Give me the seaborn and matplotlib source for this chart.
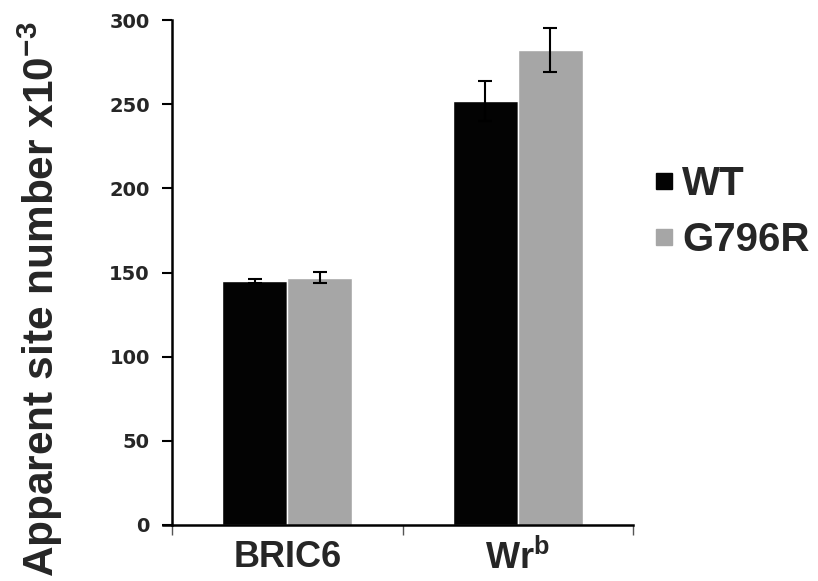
import numpy as np
import pandas as pd
import seaborn as sns
import matplotlib.pyplot as plt
from matplotlib.lines import Line2D

# values (x10^-3)
categories = ['BRIC6', 'Wr$^{b}$']
genotypes = ['WT', 'G796R']
wt_means = [145, 252]
wt_err = [1, 12]
mut_means = [147, 282]
mut_err = [3.5, 13]
colors = ['#030303', '#a6a6a6']
yticks = [0, 50, 100, 150, 200, 250, 300]

df = pd.DataFrame({
    'antibody': categories * 2,
    'genotype': [genotypes[0]] * 2 + [genotypes[1]] * 2,
    'sites': wt_means + mut_means,
})
errs = [wt_err, mut_err]

sns.set_style('white')
plt.rcParams['font.family'] = ['Liberation Sans', 'DejaVu Sans']
plt.rcParams['font.weight'] = 'bold'
plt.rcParams['mathtext.fontset'] = 'custom'
plt.rcParams['mathtext.rm'] = 'Liberation Sans:bold'
plt.rcParams['mathtext.it'] = 'Liberation Sans:bold'
plt.rcParams['mathtext.bf'] = 'Liberation Sans:bold'

fig = plt.figure(figsize=(8.18, 5.81), dpi=100)
ax = fig.add_axes([163 / 818, 56 / 581, (633 - 163) / 818, 505 / 581])

sns.barplot(data=df, x='antibody', y='sites', hue='genotype', order=categories,
            hue_order=genotypes, palette=colors, width=0.565, gap=0,
            saturation=1, legend=False, ax=ax)

# error bars on top of each bar
for cont, e in zip(ax.containers, errs):
    xs = [p.get_x() + p.get_width() / 2 for p in cont]
    hs = [p.get_height() for p in cont]
    ax.errorbar(xs, hs, yerr=e, fmt='none', ecolor='black', elinewidth=1.5,
                capsize=5, capthick=1.5)

# spines first: moving a spine resets the ticks
for s in ['top', 'right']:
    ax.spines[s].set_visible(False)
ax.spines['left'].set_position(('data', -0.5))
ax.spines['left'].set_linewidth(1.8)
ax.spines['left'].set_color('black')
ax.spines['bottom'].set_linewidth(1.8)
ax.spines['bottom'].set_color('black')

x0 = -0.5 - 9 / 230
ax.set_xlim(x0, 1.5)
ax.set_ylim(0, 300)
ax.set_yticks(yticks)
ax.set_yticklabels([str(v) for v in yticks])
for lab in ax.get_yticklabels():
    lab.set_fontfamily('DejaVu Sans')
    lab.set_fontweight('bold')
    lab.set_fontsize(14)

# category boundaries as ticks, labels centred under groups
ax.set_xticks([-0.5, 0.5, 1.5])
ax.set_xticklabels([])
ax.set_xticks([0, 1], minor=True)
ax.set_xticklabels(categories, minor=True, fontsize=26, fontweight='bold')
ax.tick_params(axis='x', which='major', direction='out', length=7, width=1,
               color='#555555', bottom=True)
ax.tick_params(axis='x', which='minor', length=0, pad=11, bottom=True)
ax.tick_params(axis='y', direction='out', length=7, width=1.5, left=True,
               color='black', pad=9)

ax.set_xlabel('')
ax.set_ylabel('')
fig.text(40 / 818, 1 - 299 / 581, 'Apparent site number x10$^{-3}$',
         rotation=90, ha='center', va='center', fontsize=30.5,
         fontweight='bold')

handles = [Line2D([], [], marker='s', linestyle='none', markersize=11,
                  markerfacecolor=c, markeredgecolor=c) for c in colors]
fig.legend(handles, genotypes, loc='center left',
           bbox_to_anchor=(632 / 818, 1 - 212 / 581), frameon=False,
           prop={'size': 29, 'weight': 'bold'}, handlelength=0.6,
           handletextpad=0.15, labelspacing=0.45, borderpad=0)

fig.savefig('out.png', dpi=100)
